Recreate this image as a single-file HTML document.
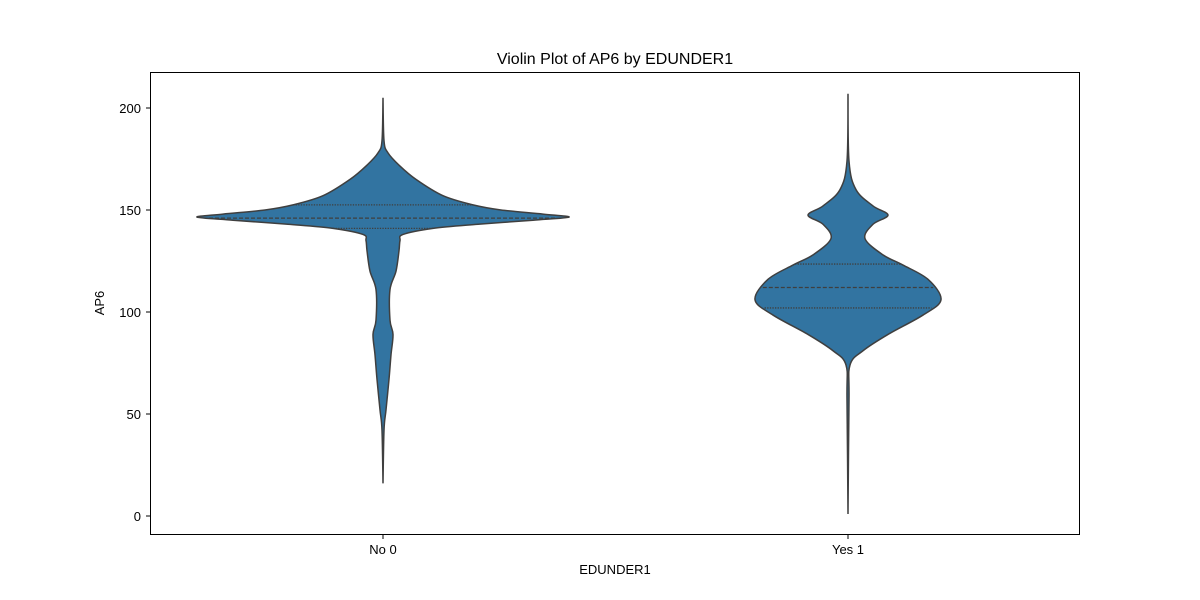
<!DOCTYPE html>
<html><head><meta charset="utf-8"><style>
body{margin:0;background:#fff}
svg{display:block;font-family:"Liberation Sans","DejaVu Sans",sans-serif}
</style></head><body>
<svg id="chart" width="1200" height="600">
<rect x="0" y="0" width="1200" height="600" fill="#fff"/>
<text x="615" y="64" text-anchor="middle" font-size="16">Violin Plot of AP6 by EDUNDER1</text>
<g id="violins"></g>
<rect x="150.5" y="72.5" width="929" height="462" fill="none" stroke="#000" stroke-width="1"/>
<g id="axes"></g>
<text x="615" y="574" text-anchor="middle" font-size="13">EDUNDER1</text>
<text transform="translate(104,303) rotate(-90)" text-anchor="middle" font-size="13">AP6</text>
</svg>
<script>
const categories = ["No 0", "Yes 1"];
const yTicks = [0, 50, 100, 150, 200];
// density profiles: [value, half-width (px at full scale)]
const profileNo = [[205,0],[184,1],[178,5],[172,16],[165,33],[157,60],[152.5,90],[150,118],[148,160],[146.5,186],[145,150],[143,95],[141,50],[138,20],[135,17],[130,16],[120,13],[111,7],[96,7],[89,10],[79,8],[67,6],[52,3],[42,1],[16,0]];
const profileYes = [[207,0],[174,1],[160,8],[152,25],[147.5,40],[143,25],[136,17],[128,35],[123,55],[116,80],[106,93],[98.5,75],[89,40],[81,15],[74,2],[57,1],[1,0]];
const quartilesNo = [141, 146, 152.5];
const quartilesYes = [102, 112, 123.5];

const svg = document.getElementById('chart');
const NS = 'http://www.w3.org/2000/svg';
const yScale = v => 516 - v * 2.04;
const xScale = i => 383 + i * 465;

const axes = document.getElementById('axes');
yTicks.forEach(t => {
  const y = yScale(t);
  const l = document.createElementNS(NS, 'line');
  l.setAttribute('x1', 146); l.setAttribute('x2', 150); l.setAttribute('y1', y); l.setAttribute('y2', y);
  l.setAttribute('stroke', '#000');
  
  
  axes.appendChild(l);
  const tx = document.createElementNS(NS, 'text');
  tx.setAttribute('x', 141); tx.setAttribute('y', y + 5); tx.setAttribute('text-anchor', 'end'); tx.setAttribute('font-size', '13');
  tx.textContent = t;
  
  
  axes.appendChild(tx);
});
categories.forEach((c, i) => {
  const x = xScale(i);
  const l = document.createElementNS(NS, 'line');
  l.setAttribute('x1', x); l.setAttribute('x2', x); l.setAttribute('y1', 535); l.setAttribute('y2', 539);
  l.setAttribute('stroke', '#000');
  
  
  axes.appendChild(l);
  const tx = document.createElementNS(NS, 'text');
  tx.setAttribute('x', x); tx.setAttribute('y', 554); tx.setAttribute('text-anchor', 'middle'); tx.setAttribute('font-size', '13');
  tx.textContent = c;
  
  
  axes.appendChild(tx);
});

function hwAt(prof, v) {
  for (let k = 0; k < prof.length - 1; k++) {
    const a = prof[k], b = prof[k + 1];
    if (v <= a[0] && v >= b[0]) { const t = (a[0] - v) / (a[0] - b[0]); return a[1] + t * (b[1] - a[1]); }
  }
  return 0;
}
function smoothPath(pts) {
  let d = 'M' + pts[0][0] + ',' + pts[0][1];
  for (let i = 0; i < pts.length - 1; i++) {
    const p0 = pts[Math.max(0, i - 1)], p1 = pts[i], p2 = pts[i + 1], p3 = pts[Math.min(pts.length - 1, i + 2)];
    const c1 = [p1[0] + (p2[0] - p0[0]) / 6, p1[1] + (p2[1] - p0[1]) / 6];
    const c2 = [p2[0] - (p3[0] - p1[0]) / 6, p2[1] - (p3[1] - p1[1]) / 6];
    d += ' C' + c1[0] + ',' + c1[1] + ' ' + c2[0] + ',' + c2[1] + ' ' + p2[0] + ',' + p2[1];
  }
  return d;
}
const vg = document.getElementById('violins');
[[profileNo, quartilesNo], [profileYes, quartilesYes]].forEach(([prof, qs], i) => {
  const cx = xScale(i);
  const right = prof.map(p => [cx + p[1], yScale(p[0])]);
  const left = prof.slice().reverse().map(p => [cx - p[1], yScale(p[0])]);
  const d = smoothPath(right) + ' L' + smoothPath(left).slice(1) + ' Z';
  const path = document.createElementNS(NS, 'path');
  path.setAttribute('d', d);
  path.setAttribute('fill', '#3274a1'); path.setAttribute('stroke', '#3f3f3f'); path.setAttribute('stroke-width', '1.5');
  
  
  vg.appendChild(path);
  qs.forEach((q, k) => {
    const w = hwAt(prof, q);
    const y = yScale(q);
    const l = document.createElementNS(NS, 'line');
    l.setAttribute('x1', cx - w); l.setAttribute('x2', cx + w); l.setAttribute('y1', y); l.setAttribute('y2', y);
    l.setAttribute('stroke', '#3f3f3f'); l.setAttribute('stroke-width', '1.3');
    l.setAttribute('stroke-dasharray', k === 1 ? '4,2' : '1.3,1.3');
    
    
    vg.appendChild(l);
  });
});
</script>
</body></html>
